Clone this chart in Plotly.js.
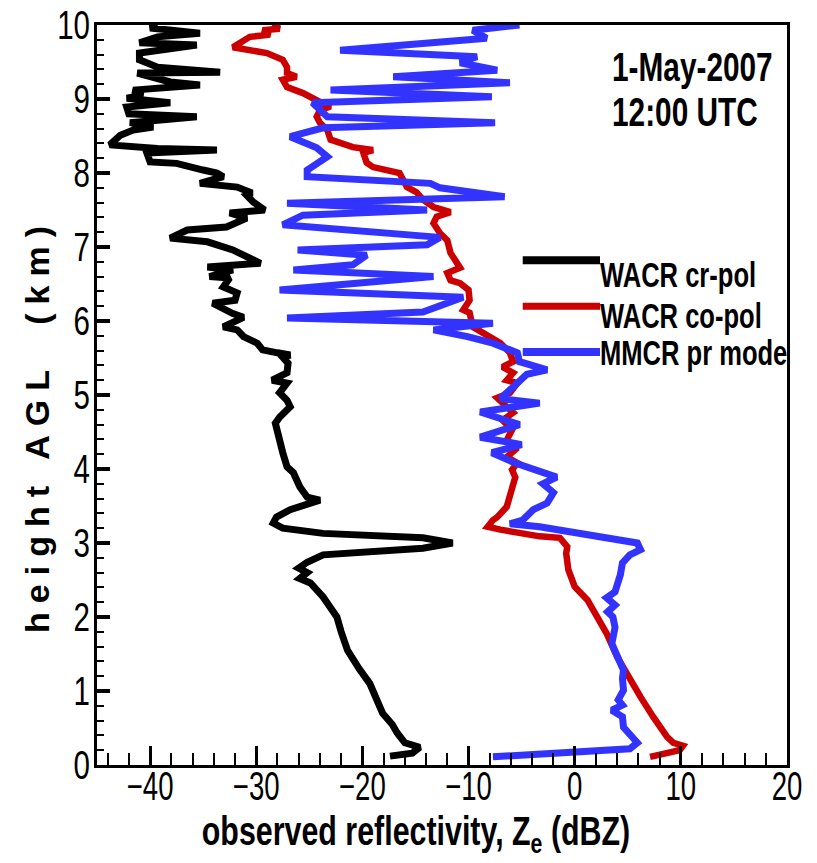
<!DOCTYPE html>
<html>
<head>
<meta charset="utf-8">
<script src="https://cdn.plot.ly/plotly-3.0.1.min.js"></script>
<style>
  html, body { margin: 0; padding: 0; background: #fff; }
  #chart { width: 817px; height: 863px; }
  .ytitle { letter-spacing: 9px; }
</style>
</head>
<body>
<div id="chart"></div>
<script>
// WACR cross-polar reflectivity (dBZ) vs height (km)
const crpolX = [-17.4,-15.3,-14.6,-16.0,-16.7,-17.2,-18.1,-18.7,-19.3,-20.3,-21.4,-22.0,-22.4,-23.7,-24.9,-25.9,-25.2,-26.0,-25.2,-23.7,-14.3,-11.5,-14.3,-23.7,-27.5,-28.4,-28.1,-26.8,-24.0,-25.2,-25.9,-26.5,-27.1,-27.5,-27.8,-28.2,-27.8,-26.8,-27.1,-27.8,-27.1,-28.5,-27.1,-27.0,-27.5,-26.8,-28.0,-29.4,-29.9,-31.2,-31.8,-33.1,-31.2,-32.2,-34.1,-32.0,-31.8,-33.1,-32.5,-34.4,-32.2,-34.6,-29.6,-32.2,-34.6,-38.1,-36.5,-32.8,-30.9,-32.5,-29.2,-30.3,-30.9,-30.4,-31.8,-35.3,-33.1,-33.7,-35.0,-37.5,-40.0,-40.3,-33.7,-39.3,-43.8,-42.8,-41.6,-39.7,-41.9,-35.6,-42.0,-42.2,-38.1,-42.2,-40.7,-41.6,-35.3,-38.1,-41.2,-33.4,-39.3,-41.0,-41.0,-38.8,-35.6,-41.0,-39.3,-35.3,-40.0,-39.3];
const crpolY = [0.12,0.16,0.24,0.30,0.43,0.55,0.70,0.90,1.10,1.30,1.55,1.80,2.00,2.27,2.46,2.52,2.60,2.66,2.74,2.84,2.93,3.00,3.07,3.13,3.20,3.27,3.35,3.45,3.58,3.62,3.76,3.95,4.03,4.22,4.43,4.62,4.70,4.84,4.93,5.03,5.16,5.20,5.30,5.43,5.51,5.54,5.57,5.61,5.70,5.79,5.88,5.92,6.05,6.10,6.24,6.28,6.38,6.46,6.58,6.60,6.69,6.73,6.78,6.96,7.07,7.12,7.23,7.27,7.39,7.46,7.50,7.61,7.70,7.73,7.81,7.86,7.95,8.00,8.04,8.13,8.15,8.27,8.31,8.33,8.38,8.51,8.58,8.62,8.68,8.76,8.80,8.89,8.95,9.01,9.05,9.12,9.19,9.23,9.35,9.36,9.43,9.53,9.62,9.66,9.73,9.76,9.84,9.89,9.96,10.0];

// WACR co-polar reflectivity
const copolX = [7.1,9.9,10.2,9.3,8.7,8.0,7.4,6.2,4.9,4.0,3.0,2.1,1.2,0.0,-0.6,-0.8,-0.7,-1.4,-3.3,-7.0,-8.2,-7.7,-7.3,-6.4,-6.1,-5.8,-5.6,-5.9,-5.4,-6.4,-5.6,-6.4,-5.9,-6.8,-5.8,-7.3,-6.1,-5.4,-6.4,-5.8,-6.8,-5.8,-6.1,-7.0,-8.3,-9.2,-9.6,-9.9,-10.5,-9.9,-10.0,-10.8,-11.7,-12.0,-10.8,-11.7,-12.0,-12.7,-13.3,-13.0,-11.7,-13.3,-14.3,-14.9,-15.8,-16.5,-19.0,-19.6,-19.9,-19.0,-20.9,-23.0,-23.3,-24.0,-24.3,-24.0,-23.0,-24.0,-25.6,-27.1,-27.5,-26.2,-27.1,-27.1,-27.5,-29.0,-32.2,-30.6,-28.7,-29.4,-27.8,-28.5];
const copolY = [0.11,0.20,0.26,0.30,0.38,0.51,0.65,0.92,1.24,1.46,1.78,2.00,2.23,2.41,2.64,2.86,2.95,3.07,3.09,3.18,3.22,3.31,3.35,3.49,3.62,3.76,3.89,3.99,4.08,4.16,4.26,4.39,4.53,4.66,4.76,4.96,5.03,5.16,5.20,5.30,5.38,5.45,5.57,5.70,5.81,5.88,5.92,6.11,6.15,6.28,6.42,6.51,6.55,6.65,6.72,6.92,7.09,7.19,7.32,7.41,7.47,7.54,7.64,7.74,7.81,8.00,8.08,8.14,8.27,8.31,8.35,8.45,8.58,8.68,8.76,8.85,8.90,8.96,9.08,9.16,9.26,9.30,9.35,9.43,9.53,9.62,9.70,9.84,9.87,9.93,9.95,10.0];

// MMCR precipitation mode reflectivity
const mmcrX = [-7.7,5.2,5.9,5.2,4.6,4.5,3.5,4.5,4.1,4.6,4.5,4.6,4.0,3.5,3.8,3.6,3.1,3.8,3.0,3.8,4.3,4.5,5.2,6.2,5.9,2.4,-3.3,-6.1,-4.9,-3.9,-2.6,-2.0,-3.0,-1.7,-5.6,-7.8,-5.0,-8.9,-5.2,-8.9,-3.3,-7.0,-4.5,-2.6,-5.2,-5.4,-7.7,-10.1,-13.3,-7.7,-27.1,-14.3,-10.5,-27.8,-13.3,-26.5,-20.9,-19.6,-26.1,-13.9,-12.7,-27.5,-25.6,-13.9,-27.1,-6.6,-12.7,-13.6,-25.2,-25.2,-23.3,-24.3,-26.8,-23.7,-7.5,-23.3,-24.7,-7.8,-23.0,-6.1,-17.1,-7.3,-10.8,-9.2,-22.1,-8.3,-9.6,-5.2];
const mmcrY = [0.11,0.22,0.30,0.43,0.51,0.65,0.74,0.81,0.88,1.01,1.17,1.28,1.46,1.64,1.86,2.00,2.07,2.16,2.26,2.34,2.57,2.73,2.84,2.91,3.00,3.08,3.22,3.26,3.31,3.45,3.54,3.68,3.80,3.89,4.08,4.22,4.33,4.43,4.60,4.77,4.89,4.95,5.28,5.34,5.45,5.57,5.70,5.79,5.88,5.97,6.04,6.12,6.32,6.42,6.60,6.69,6.76,6.89,6.96,7.03,7.13,7.30,7.43,7.50,7.59,7.68,7.80,7.86,7.95,8.04,8.22,8.34,8.49,8.61,8.68,8.76,8.95,9.03,9.12,9.22,9.30,9.39,9.49,9.57,9.66,9.82,9.93,10.0];

const seriesNames = ["WACR cr-pol", "WACR co-pol", "MMCR pr mode"];
const seriesColors = ["#000000", "#cc0000", "#3333ff"];
const stampLines = ["1-May-2007", "12:00 UTC"];

const sans = "Liberation Sans, Arial, sans-serif";

const traces = [
  {x: crpolX, y: crpolY, mode: "lines", name: seriesNames[0], line: {color: seriesColors[0], width: 7}},
  {x: copolX, y: copolY, mode: "lines", name: seriesNames[1], line: {color: seriesColors[1], width: 6.5}},
  {x: mmcrX, y: mmcrY, mode: "lines", name: seriesNames[2], line: {color: seriesColors[2], width: 7}}
];

// legend drawn as line samples + labels (paper coords)
const legX0 = 0.617, legX1 = 0.729;
const legLineY = [0.682, 0.620, 0.558];
const legTextY = [0.6635, 0.6068, 0.5568];
const legWidths = [8, 7, 8];
const shapes = seriesNames.map((n, i) => ({
  type: "line", xref: "paper", yref: "paper",
  x0: legX0, x1: legX1, y0: legLineY[i], y1: legLineY[i],
  line: {color: seriesColors[i], width: legWidths[i]}
}));
const annotations = seriesNames.map((n, i) => ({
  xref: "paper", yref: "paper", x: legX1 - 0.003, y: legTextY[i],
  xanchor: "left", yanchor: "middle", showarrow: false, text: n,
  font: {family: sans, size: 35, color: "#000", weight: "bold"}
}));
const stampY = [0.9439, 0.8831];
stampLines.forEach((t, i) => annotations.push({
  xref: "paper", yref: "paper", x: 0.744, y: stampY[i],
  xanchor: "left", yanchor: "middle", showarrow: false, text: t,
  font: {family: sans, size: 40, color: "#000", weight: "bold"}
}));

const layout = {
  width: 817, height: 863,
  margin: {l: 97, r: 30, t: 25, b: 98, pad: 0},
  paper_bgcolor: "#fff", plot_bgcolor: "#fff",
  showlegend: false,
  xaxis: {
    range: [-45, 20], tick0: 0, dtick: 10,
    ticks: "inside", ticklen: 19, tickwidth: 3, tickcolor: "#000",
    minor: {dtick: 2, ticks: "inside", ticklen: 12, tickwidth: 2, tickcolor: "#000"},
    showline: true, linewidth: 3, linecolor: "#000", mirror: true,
    showgrid: false, zeroline: false,
    tickfont: {family: sans, size: 40, color: "#000"},
    title: {text: "observed reflectivity, Z<sub>e</sub> (dBZ)", font: {family: sans, size: 40, color: "#000", weight: "bold"}, standoff: 4}
  },
  yaxis: {
    range: [0, 10], tick0: 0, dtick: 1,
    ticks: "inside", ticklen: 13, tickwidth: 4, tickcolor: "#000",
    minor: {dtick: 0.2, ticks: "inside", ticklen: 7, tickwidth: 2, tickcolor: "#000"},
    showline: true, linewidth: 3, linecolor: "#000", mirror: true,
    showgrid: false, zeroline: false,
    tickfont: {family: sans, size: 41, color: "#000"},
    title: {text: "height AGL  (km)", font: {family: sans, size: 34, color: "#000", weight: "bold"}, standoff: 6}
  },
  shapes: shapes,
  annotations: annotations
};

// condense text horizontally (the original uses a narrow, tall typeface) and place it
function condense(el, s, anchor, dx, dy) {
  const bb = el.getBBox();
  const ax = anchor === "start" ? bb.x : anchor === "end" ? bb.x + bb.width : bb.x + bb.width / 2;
  const old = el.getAttribute("transform") || "";
  el.setAttribute("transform", `translate(${dx || 0},${dy || 0}) ${old} translate(${ax},0) scale(${s},1) translate(${-ax},0)`);
}
function rel(el) {
  const svg = document.querySelector("#chart .main-svg").getBoundingClientRect();
  const r = el.getBoundingClientRect();
  return {left: r.left - svg.left, top: r.top - svg.top, right: r.right - svg.left, bottom: r.bottom - svg.top,
          cx: (r.left + r.right) / 2 - svg.left, cy: (r.top + r.bottom) / 2 - svg.top};
}

Plotly.newPlot("chart", traces, layout, {displayModeBar: false, staticPlot: true}).then(() => {
  // x tick labels: box top just at the axis line
  document.querySelectorAll("#chart .xtick text").forEach(el => {
    const r = rel(el);
    condense(el, 0.69, "middle", 0, 764 - r.top);
  });
  // y tick labels: right edge at 90
  document.querySelectorAll("#chart .ytick text").forEach(el => {
    const r = rel(el);
    condense(el, 0.72, "end", 90 - r.right, 0);
  });
  // x title
  const xt = document.querySelector("#chart .xtitle");
  if (xt) { const r = rel(xt); condense(xt, 0.76, "middle", 416 - r.cx, 809 - r.top); }
  // y title: centre at (37, 425)
  const yt = document.querySelector("#chart .ytitle");
  if (yt) {
    const r = rel(yt);
    const old = yt.getAttribute("transform") || "";
    yt.setAttribute("transform", `translate(${37 - r.cx},${425 - r.cy}) ${old}`);
  }
  // annotations (legend labels and date stamp)
  document.querySelectorAll("#chart .annotation-text").forEach(el => {
    const txt = el.textContent;
    const s = stampLines.includes(txt) ? 0.745 : 0.73;
    condense(el, s, "start", 0, 0);
  });
});
</script>
</body>
</html>
